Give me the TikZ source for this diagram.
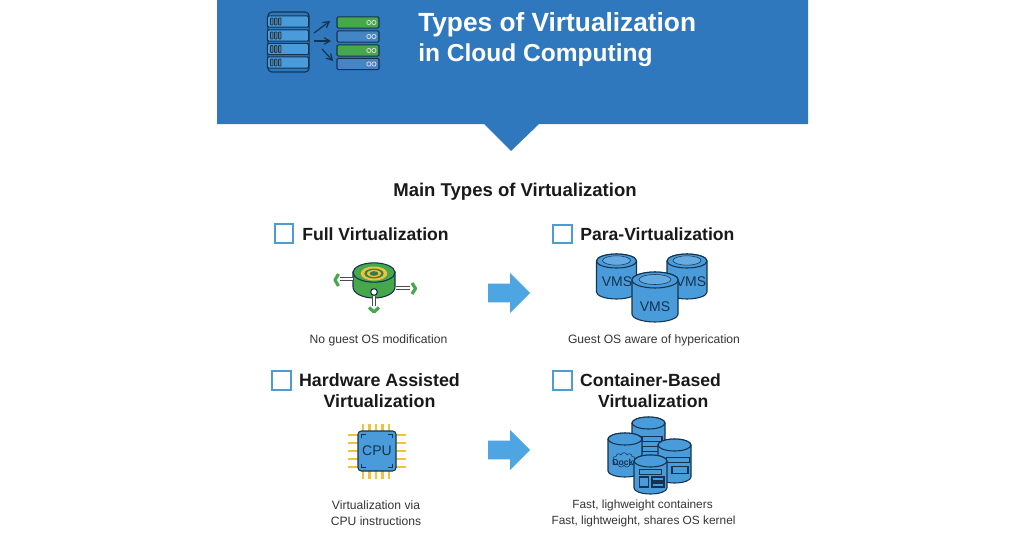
\documentclass[tikz,border=0pt]{standalone}
\usepackage{fontspec}
\setmainfont{Liberation Sans}
\usepackage{tikz}
\usetikzlibrary{arrows,calc,positioning,shapes,shapes.arrows,shapes.symbols}
\definecolor{headblue}{HTML}{2F78BD}
\definecolor{boxblue}{HTML}{4F9CD0}
\definecolor{drumblue}{HTML}{4A9BDA}
\definecolor{inkblue}{HTML}{14334F}
\definecolor{rowgreen}{HTML}{46A84A}
\definecolor{pinyellow}{HTML}{F3C23C}
\definecolor{bigarrow}{HTML}{4DA5E2}

% center x, top y, bottom y, x radius, y radius
\newcommand{\drum}[5]{
  \draw[inkblue, thick, fill=drumblue] (#1-#4,#2+#5) -- (#1-#4,#3-#5) arc (180:360:#4 and -#5) -- (#1+#4,#2+#5) arc (0:180:#4 and -#5) -- cycle;
  \draw[inkblue, thick, fill=drumblue] (#1,#2+#5) ellipse (#4 and #5);
}

\begin{document}
\begin{tikzpicture}[x=0.75pt,y=-0.75pt,
    heading/.style={
      font=\fontsize{13.2}{16}\selectfont\bfseries,
      text=black!90,
      align=center,
      inner sep=0pt
    },
    caption/.style={
      font=\fontsize{9.1}{12}\selectfont,
      text=black!80,
      align=center,
      inner sep=0pt
    },
    check/.style={
      rectangle,
      draw=boxblue,
      line width=1.3pt,
      minimum width=14pt,
      minimum height=14pt,
      inner sep=0pt
    },
    flow/.style={
      single arrow,
      fill=bigarrow,
      minimum height=31.5pt,
      single arrow head extend=8pt,
      single arrow tip angle=90,
      inner sep=0pt
    },
    row/.style={
      rectangle,
      draw=inkblue,
      thick,
      rounded corners=1pt,
      minimum width=31pt,
      minimum height=8.5pt,
      inner sep=0pt
    },
    drumtext/.style={
      inner sep=0pt,
      text=inkblue,
      font=\fontsize{10.5}{12}\selectfont
    },
    ring/.style={
      ellipse,
      draw=inkblue,
      thin,
      fill=drumblue!85!white,
      inner sep=0pt
    },
    slot/.style={
      rectangle,
      draw=inkblue,
      thick,
      inner sep=0pt
    },
    handle/.style={
      draw=gray!60!black,
      line width=0.7pt,
      double=white,
      double distance=1pt
    },
    chevron/.style={
      rowgreen,
      line width=2.4pt,
      line join=round
    }
]
\useasboundingbox (0,0) rectangle (1024,536);

%% Banner
\fill[headblue] (217,0) -- (808,0) -- (808,124) -- (539,124) -- (511,151) -- (484,124) -- (217,124) -- cycle;
\node [anchor=west, inner sep=0pt, text=white, font=\fontsize{19.7}{22}\selectfont\bfseries] (title) at (418,24.5) {Types of Virtualization};
\node [anchor=west, inner sep=0pt, text=white, font=\fontsize{18.4}{22}\selectfont\bfseries] (subtitle) at (418,55) {in Cloud Computing};

%% Server icon
\node [rectangle, draw=inkblue, thick, rounded corners=3pt, minimum width=31pt, minimum height=45pt, inner sep=0pt, fill=headblue] (rack) at (288.5,42) {};
\node [row, fill=drumblue] (ra) at (288,21.5) {};
\node [row, fill=drumblue] (rb) at (288,35.5) {};
\node [row, fill=drumblue] (rc) at (288,49) {};
\node [row, fill=drumblue] (rd) at (288,62.5) {};
\node [row, fill=rowgreen, minimum width=31.5pt] (ga) at (358,22.5) {};
\node [row, fill=headblue!90!white, minimum width=31.5pt] (gb) at (358,36.5) {};
\node [row, fill=rowgreen, minimum width=31.5pt] (gc) at (358,50.5) {};
\node [row, fill=headblue!90!white, minimum width=31.5pt] (gd) at (358,64) {};
\foreach \n in {ra,rb,rc,rd}{
  \foreach \d in {0,3,6}{
    \draw[inkblue, semithick, fill=gray!60!headblue, rounded corners=0.4pt] ($(\n.west)+(2.8pt+\d pt,-2.6pt)$) rectangle +(1.8pt,5.2pt);
  }
}
\foreach \n in {ga,gb,gc,gd}{
  \draw[white!85!black, semithick] ($(\n.east)+(-4.2pt,0)$) circle (1.6pt);
  \draw[white!85!black, semithick] ($(\n.east)+(-8pt,0)$) circle (1.6pt);
}

\coordinate (up) at (314,33);
\coordinate (mid) at (314,41);
\coordinate (down) at (322,49);
\coordinate (upend) at (330,21);
\coordinate (midend) at (331,41);
\coordinate (downend) at (333,61);
\draw [->, >=angle 60, line width=0.9pt, inkblue] (up) to (upend);
\draw [->, >=angle 60, line width=0.9pt, inkblue] (mid) to (midend);
\draw [->, >=angle 60, line width=0.9pt, inkblue] (down) to (downend);

%% Main heading
\node [heading, font=\fontsize{13.9}{16}\selectfont\bfseries] (main) at (515,192) {Main Types of Virtualization};

%% Full virtualization
\node [check] (cfull) at (284,233.5) {};
\node [heading, anchor=west] (full) at (302,234) {Full Virtualization};
\node [caption] (capfull) at (378.5,340) {No guest OS modification};

\draw[fill=rowgreen, draw=inkblue, thick] (353,272) -- (353,287) arc (180:360:21 and -11) -- (395,272) -- cycle;
\node [ellipse, draw=inkblue, thick, fill=rowgreen, minimum width=31.5pt, minimum height=14.5pt, inner sep=0pt] (disk) at (374,272.5) {};
\node [ellipse, fill=pinyellow, minimum width=20pt, minimum height=10.5pt, inner sep=0pt] (diska) at (374,273.5) {};
\node [ellipse, fill=rowgreen!70!inkblue, minimum width=14.5pt, minimum height=7.5pt, inner sep=0pt] (diskb) at (374,273.5) {};
\node [ellipse, fill=pinyellow, minimum width=10.5pt, minimum height=5.2pt, inner sep=0pt] (diskc) at (374,273.5) {};
\node [ellipse, fill=rowgreen!60!inkblue, minimum width=6.5pt, minimum height=3.5pt, inner sep=0pt] (diskd) at (374,273.5) {};
\coordinate (wl) at (340,279);
\coordinate (wr) at (410,288);
\coordinate (wd) at (374,306);
\coordinate (wa) at (353,279);
\coordinate (wb) at (396,288);
\node [circle, draw=inkblue, thick, fill=white, minimum width=5pt, inner sep=0pt] (hub) at (374,292) {};
\draw [handle] (wl) -- (wa);
\draw [handle] (wb) -- (wr);
\draw [handle] (hub) -- (wd);
\draw [chevron] (338.5,274) -- (335,280) -- (338.5,286);
\draw [chevron] (412,283) -- (415.5,288.5) -- (412,294);
\draw [chevron] (369,307.5) -- (374,312) -- (379,307.5);

%% Para virtualization
\node [check] (cpara) at (562.5,234) {};
\node [heading, anchor=west] (para) at (580,234) {Para-Virtualization};
\drum{616.5}{254}{299}{20}{7}
\node [ring, minimum width=21pt, minimum height=7pt] (ringa) at (616.5,260.5) {};
\node [drumtext] (vmsa) at (617,282) {VMS};
\drum{687}{254}{299}{20}{7}
\node [ring, minimum width=21pt, minimum height=7pt] (ringb) at (687,260.5) {};
\node [drumtext] (vmsb) at (691,282) {VMS};
\drum{655}{272}{322}{23}{8}
\node [ring, minimum width=24pt, minimum height=7.5pt] (ringc) at (655,279.5) {};
\node [drumtext] (vmsc) at (655,307) {VMS};
\node [caption] (cappara) at (654,340) {Guest OS aware of hyperication};

%% Flow arrows
\node [flow] (flowa) at (504.5,293) {\rule{0pt}{13.5pt}};
\node [flow] (flowb) at (504.5,450) {\rule{0pt}{13.5pt}};

%% Hardware assisted
\node [check] (chard) at (281.5,380.5) {};
\node [heading, font=\fontsize{13.4}{16}\selectfont\bfseries] (hard) at (379.5,390.5) {Hardware Assisted\\Virtualization};
\node [caption] (caphard) at (376,513.5) {Virtualization via\\CPU instructions};

\foreach \p in {363,369.5,376,382.5,389}{
  \draw[pinyellow, line width=1.9pt] (\p,424) -- (\p,479);
}
\foreach \p in {435,443,451,459,467}{
  \draw[pinyellow, line width=1.9pt] (348,\p) -- (406,\p);
}
\node [rectangle, draw=inkblue, thick, rounded corners=2.5pt, fill=drumblue, minimum width=28.5pt, minimum height=30pt, inner sep=0pt, text=inkblue, font=\fontsize{10.5}{12}\selectfont] (cpu) at (377,451) {CPU};
\draw[inkblue, thick] ($(cpu.north west)+(3pt,-6pt)$) |- +(3.5pt,3pt);
\draw[inkblue, thick] ($(cpu.north east)+(-3pt,-6pt)$) |- +(-3.5pt,3pt);
\draw[inkblue, thick] ($(cpu.south west)+(3pt,6pt)$) |- +(3.5pt,-3pt);
\draw[inkblue, thick] ($(cpu.south east)+(-3pt,6pt)$) |- +(-3.5pt,-3pt);

%% Container based
\node [check] (ccont) at (562.5,380.5) {};
\node [heading] (cont) at (650.5,390.5) {Container-Based\\\hspace*{4pt}Virtualization};
\drum{648.5}{417}{475}{16.5}{6}
\node [slot, minimum width=15pt, minimum height=4pt] (sa) at (652,439) {};
\node [slot, minimum width=15pt, minimum height=4pt] (sb) at (652,449) {};
\drum{625}{433}{477}{17}{6}
\node [cloud, draw=inkblue, thin, cloud puffs=11, aspect=2, minimum width=17pt, minimum height=11pt, inner sep=0pt] (whale) at (624,460) {};
\node [inner sep=0pt, text=inkblue, font=\fontsize{6.5}{7}\selectfont\bfseries] (dock) at (627,462) {Docker};
\drum{674.5}{439}{483}{16.5}{6}
\node [slot, minimum width=17pt, minimum height=4pt] (sc) at (678,460) {};
\node [slot, minimum width=12pt, minimum height=5pt] (sd) at (680,470) {};
\drum{650.5}{455}{494}{16.5}{6}
\node [slot, minimum width=17pt, minimum height=3.5pt] (se) at (650.5,472) {};
\node [slot, minimum width=7pt, minimum height=7.5pt] (sf) at (644,482) {};
\node [slot, minimum width=9pt, minimum height=3pt] (sg) at (658,479) {};
\node [slot, minimum width=9pt, minimum height=3pt] (sh) at (658,485) {};
\node [caption, font=\fontsize{8.9}{12}\selectfont] (capcont) at (642.5,505.5) {Fast, lighweight containers};
\node [caption, font=\fontsize{8.9}{12}\selectfont] (capkern) at (643.5,521.5) {Fast, lightweight, shares OS kernel};

\end{tikzpicture}
\end{document}
